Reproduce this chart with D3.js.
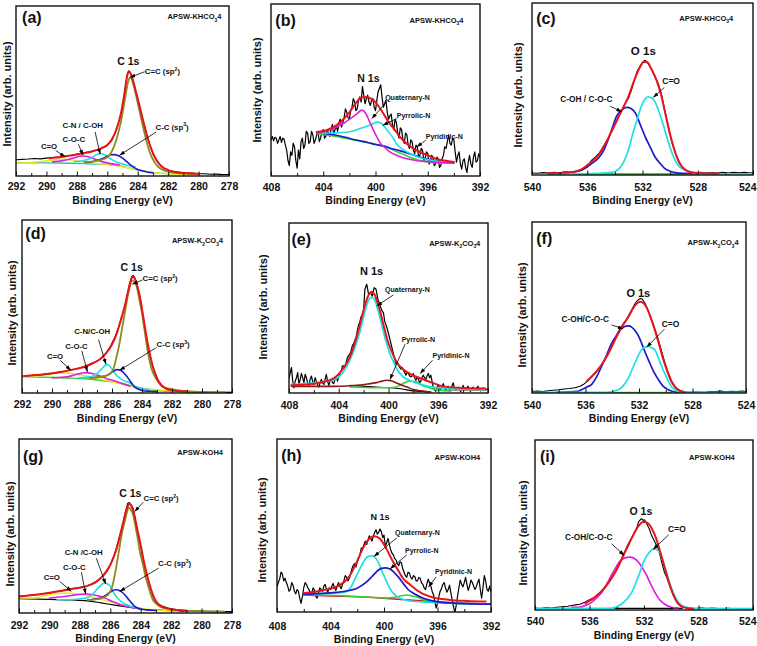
<!DOCTYPE html>
<html><head><meta charset="utf-8">
<script src="https://cdn.jsdelivr.net/npm/d3@7"></script>
<style>
body{margin:0;background:#fff}
svg{display:block}
text{font-family:"Liberation Sans",Arial,sans-serif;font-weight:bold;fill:#111}
</style>
</head><body><svg id="c" width="757" height="646"></svg>
<script>
// ---------------- DATA: [binding energy (eV), intensity (% of panel height)] ----------------
// (a) APSW-KHCO3 C 1s
const a_raw=[[292,9.6],[291.6,9.8],[291.2,10],[290.8,10.3],[290.4,10.1],[290,10.5],[289.6,10.9],[289.2,11.2],[288.8,11.7],[288.4,12.1],[288,12.9],[287.6,13.5],[287.2,14.3],[286.8,15],[286.4,16.2],[286,18],[285.7,21],[285.4,27],[285.2,33],[285,40],[284.9,46],[284.8,53],[284.7,59],[284.6,61.9],[284.5,61],[284.4,58.5],[284.2,52],[284,45],[283.8,38],[283.6,31],[283.4,24],[283.2,18],[283,13],[282.8,9.5],[282.6,7],[282.4,5.3],[282.2,4.2],[282,3.4],[281.6,2.5],[281.2,2.1],[280.8,1.7],[280.4,1.7],[280,1.3],[279.6,1.3],[279.2,1],[278.8,1.1],[278.4,0.8],[278,0.9]];
const a_fit=[[289.8,10.5],[289,11.2],[288.4,12],[288,12.6],[287.6,13.3],[287.2,14],[286.8,15],[286.4,16.3],[286,18.3],[285.7,21.5],[285.4,27.5],[285.1,37],[284.9,47],[284.75,56],[284.65,60.5],[284.55,61.5],[284.45,60],[284.3,56],[284.1,49],[283.9,42],[283.6,31],[283.3,21],[283,13.5],[282.7,8.5],[282.4,5.5],[282,3.5],[281.5,2.3],[281,1.8],[280.5,1.5],[280,1.3]];
const a_sp2=[[287.5,8.2],[287,8.5],[286.5,9.2],[286,11],[285.7,14.5],[285.4,21.5],[285.1,32],[284.9,42],[284.75,50],[284.6,56.5],[284.5,58],[284.4,57],[284.25,52.5],[284.05,45],[283.85,37],[283.6,27],[283.35,18],[283.1,11.5],[282.85,7.5],[282.6,5],[282.3,3.4],[282,2.5],[281.5,1.8],[281,1.5],[280.4,1.2]];
const a_sp3=[[287.4,8.1],[287,8.4],[286.6,9.2],[286.3,10.3],[286,11.6],[285.75,12.5],[285.55,12.6],[285.3,12],[285,10.5],[284.7,8.3],[284.4,6],[284.1,4.3],[283.8,3.2],[283.4,2.4],[283,1.9]];
const a_cn=[[288.2,8.4],[287.6,9],[287.2,10],[286.9,11.5],[286.65,12.8],[286.45,13.2],[286.25,12.8],[286,11.5],[285.7,9.6],[285.4,8.2],[285,7],[284.6,6.2],[284.2,5.5]];
const a_coc=[[289.6,8.3],[289,8.9],[288.5,9.8],[288.1,10.9],[287.8,11.6],[287.55,11.8],[287.3,11.5],[287,10.6],[286.7,9.5],[286.3,8.3],[285.8,7.3],[285.2,6.5]];
const a_co=[[292,7.6],[291,8],[290.3,8.6],[289.7,9.3],[289.2,9.8],[288.8,9.9],[288.4,9.6],[288,9],[287.5,8.2],[287,7.6],[286.5,7.2],[285.5,6.2],[284.5,4.6],[283.5,2.8],[282.5,1.6],[281,1],[280,0.8]];
const a_bg=[[292,7.8],[290,7.7],[288.5,7.5],[287.5,7.3],[286.5,7],[285.5,6.3],[285,5.6],[284.5,4.6],[284,3.6],[283.5,2.7],[283,2],[282,1.4],[281,1.1],[280,1]];

// (b) APSW-KHCO3 N 1s
const b_raw=[[408,21],[407.9,23],[407.8,20.5],[407.7,22.5],[407.6,22],[407.5,19],[407.4,21],[407.3,23],[407.2,19.5],[407.1,22],[407,21.5],[406.9,18],[406.8,15],[406.7,9],[406.6,6],[406.5,14],[406.4,12],[406.3,19],[406.2,17],[406.1,9],[406,4.5],[405.9,15],[405.8,10],[405.7,20],[405.6,22],[405.5,16],[405.4,18],[405.3,26],[405.2,25],[405.1,19],[405,20],[404.9,26],[404.8,24],[404.7,19],[404.6,21],[404.5,24],[404.4,25.5],[404.3,20],[404.2,22],[404.1,26],[404,27],[403.9,22],[403.8,23],[403.7,27],[403.6,25],[403.5,23],[403.4,27.5],[403.3,30],[403.2,24],[403.1,27],[403,29],[402.9,26],[402.8,31],[402.7,33],[402.6,28.5],[402.5,31],[402.4,34],[402.3,39],[402.2,37],[402.1,34],[402,33],[401.9,38],[401.8,40],[401.7,45],[401.6,43],[401.5,38],[401.4,39],[401.3,44],[401.2,46],[401.1,43],[401,52],[400.9,47],[400.8,42],[400.7,45],[400.6,47],[400.5,43],[400.4,41],[400.3,44],[400.2,45],[400.1,40],[400,38],[399.9,44],[399.8,49],[399.7,51],[399.6,53],[399.5,46],[399.4,40],[399.3,42],[399.2,44],[399.1,37],[399,33],[398.9,35],[398.8,36],[398.7,30],[398.6,27],[398.5,33],[398.4,31],[398.3,25],[398.2,22],[398.1,28],[398,27],[397.9,21],[397.8,19],[397.7,25],[397.6,24],[397.5,18],[397.4,16],[397.3,21],[397.2,20],[397.1,15],[397,13],[396.9,18],[396.8,17],[396.7,11],[396.6,12],[396.5,16],[396.4,15],[396.3,9],[396.2,10],[396.1,14],[396,13],[395.9,7],[395.8,8],[395.7,12],[395.6,11],[395.5,6],[395.4,7],[395.3,11],[395.2,10],[395.1,5],[395,6],[394.9,10],[394.8,12],[394.7,17],[394.6,16],[394.5,20],[394.4,24],[394.3,19],[394.2,18],[394.1,22],[394,21],[393.9,14],[393.8,8],[393.7,12],[393.6,14],[393.5,7],[393.4,4],[393.3,9],[393.2,10],[393.1,5],[393,2],[392.9,8],[392.8,12],[392.7,7],[392.6,5],[392.5,11],[392.4,14],[392.3,8],[392.2,9],[392.1,13],[392,11]];
const b_fit=[[404.5,25.6],[403.8,26.5],[403.2,28.5],[402.6,32],[402,37],[401.5,42.5],[401.1,45.5],[400.8,46],[400.5,45.5],[400.15,44],[399.8,41],[399.4,36.3],[399,31.5],[398.6,27.6],[398.1,22.5],[397.6,18.8],[397,15.5],[396.3,13],[395.7,11],[395.1,9.5],[394.5,8.7],[394,8.2]];
const b_quat=[[404.5,24.7],[403.8,26],[403,28.5],[402.4,30.8],[401.9,33.5],[401.4,36.3],[401.05,38.3],[400.75,36.5],[400.45,31.5],[400.15,26.5],[399.85,22],[399.6,18.8],[399.2,16],[398.9,14],[398.3,11.8],[397.6,10],[396.9,9],[396.3,8.5],[395.2,8],[394,7.6]];
const b_pyrr=[[404.5,24.7],[403.5,25],[402.5,25.3],[401.8,26],[401.2,27.6],[400.7,28.8],[400.3,30],[399.9,31.3],[399.55,30.5],[399.2,27.5],[398.9,24.7],[398.6,21.5],[398.4,18.8],[398,16],[397.6,14],[397,11.8],[396.3,10],[395.5,8.8],[394.7,8.2],[394,8]];
const b_pyri=[[404.5,25],[404,24.8],[403.5,24.3],[403,23.7],[402.4,22.7],[401.9,21.7],[401.2,20.5],[400.6,19.5],[400,18.3],[399.4,17.5],[398.8,16],[398.1,14.6],[397.4,13],[396.8,11.5],[396.2,10.2],[395.6,9.1],[394.8,8.3],[394,7.8]];
const b_bg=[[404.5,24.7],[404,24.2],[403,23],[402,21.5],[401,20],[400,18.5],[399.2,16.8],[398.6,15],[398,13],[397.4,11],[396.8,9.5],[396.2,8.5],[395.4,7.8],[394.6,7.5],[394,7.4]];

// (c) APSW-KHCO3 O 1s
const c_raw=[[540,1.2],[539.6,1],[539.2,1.4],[538.8,1.1],[538.4,1.5],[538,1.3],[537.6,1.8],[537.2,1.6],[536.8,2.2],[536.4,2.6],[536,4.5],[535.7,8.5],[535.4,10.5],[535.1,13],[534.8,17],[534.5,21],[534.2,26],[533.9,31],[533.6,36],[533.3,41],[533,45],[532.8,49.3],[532.6,55],[532.4,60],[532.2,63],[532,65.5],[531.85,66.7],[531.7,66],[531.5,63.5],[531.3,61],[531.1,57],[530.85,53],[530.6,46],[530.4,38],[530.15,29],[529.9,20],[529.65,13.5],[529.4,8.5],[529.15,5],[528.9,3],[528.6,1.8],[528.2,1.3],[527.8,1.5],[527.4,1.1],[527,1.4],[526.6,1.2],[526.2,1.6],[525.8,1.1],[525.4,1.5],[525,1.3],[524.6,1.5],[524.2,1.2],[524,1.4]];
const c_fit=[[538.8,1],[537.5,1.4],[536.5,3],[535.8,7],[535.2,11.5],[534.6,19.5],[534.2,26],[533.6,36],[533,46],[532.6,55],[532.2,62.5],[531.9,65.7],[531.65,65.5],[531.35,61.5],[531,55.5],[530.65,46.5],[530.3,34],[530,23.5],[529.65,13.5],[529.3,6.5],[528.9,3],[528.4,1.5],[527.5,1],[526.5,0.9]];
const c_coh=[[538.8,0.9],[537.5,1.2],[536.6,2.4],[536.2,3.9],[535.7,6.5],[535.2,9.7],[534.8,14.5],[534.5,20.3],[534.2,27],[533.9,33.8],[533.5,37.8],[533.15,39.3],[532.8,38.5],[532.5,35.8],[532.2,30],[531.8,22.2],[531.4,15.5],[531.1,10.6],[530.7,6.5],[530.4,3.9],[530,2.2],[529.65,1.4],[529,0.9],[528,0.7]];
const c_co=[[538.8,0.6],[536,0.8],[534.6,1.2],[534,2],[533.6,4.5],[533.3,8.7],[533,15],[532.7,24.2],[532.4,32],[532.1,39.7],[531.85,43.8],[531.6,45.5],[531.35,44.8],[531.1,42.6],[530.85,37.8],[530.6,31.9],[530.35,25],[530.1,18.4],[529.85,12.5],[529.65,8.7],[529.3,4.5],[528.9,2.9],[528.5,1.5],[527.8,0.9],[526,0.7],[524,0.7]];
const c_bg=[[536.5,0.6],[532,0.6],[529,0.6]];

// (d) APSW-K2CO3 C 1s
const d_raw=[[292,9.8],[291.6,10],[291.2,10.4],[290.8,10.5],[290.4,10.9],[290,11.3],[289.6,11.9],[289.2,12.4],[288.8,13.4],[288.4,13.9],[288,14.9],[287.6,15.7],[287.2,17.4],[286.8,19.5],[286.4,23],[286.1,27],[285.8,32.4],[285.6,37],[285.35,44],[285.15,50],[285,55.6],[284.85,62],[284.7,67],[284.6,68],[284.5,67],[284.4,64],[284.25,60],[284.1,53.7],[283.95,45],[283.8,36.3],[283.65,29],[283.5,22.8],[283.3,16],[283.1,11.2],[282.95,8],[282.8,5.4],[282.6,3.8],[282.4,2.5],[282,1.6],[281.6,1.3],[281.2,0.9],[280.8,0.7],[280.4,0.5],[280,0.4],[279.5,0.3],[279,0.3],[278.5,0.2],[278,0.2]];
const d_fit=[[291.8,9.8],[290.5,10.8],[289.5,12],[288.6,13.5],[287.9,15],[287.3,17.2],[286.8,19.5],[286.35,23.5],[286,28],[285.7,34],[285.4,42.5],[285.1,52],[284.9,60],[284.75,65],[284.6,67.2],[284.5,66.5],[284.35,63],[284.15,56],[283.95,46],[283.75,35],[283.5,23.5],[283.25,14.5],[283,8.5],[282.7,4.5],[282.4,2.6],[282,1.6],[281.5,1.1],[281,0.9]];
const d_sp2=[[287.5,8.6],[286.8,9.3],[286.4,10],[286.1,11.2],[285.9,14],[285.7,20.8],[285.5,28.5],[285.35,36.3],[285.15,46],[285,53.7],[284.85,60],[284.65,65],[284.5,64],[284.35,61.4],[284.2,55],[284,46],[283.85,37.5],[283.7,28.6],[283.55,21],[283.4,15],[283.2,10.5],[283,7.3],[282.8,5],[282.6,3.5],[282.2,2.5],[281.7,1.6],[281,1],[280.1,0.6],[278.5,0.4]];
const d_sp3=[[287.3,8.8],[286.8,9.3],[286.35,10.2],[286.1,11.5],[285.9,12.7],[285.65,13.5],[285.35,12.7],[285.1,10.5],[284.9,8.3],[284.7,5.8],[284.5,3.5],[284.25,2.3],[284,1.5],[283.5,1],[283,0.8]];
const d_cn=[[288.2,8.8],[287.5,9.3],[287.2,10.2],[287,11.2],[286.7,13.8],[286.5,15.6],[286.35,16.4],[286.2,16],[286,13.8],[285.85,11.8],[285.7,10.2],[285.4,8.2],[285.25,7.3],[284.9,6.2],[284.6,4.5],[284.2,3],[283.5,1.8]];
const d_coc=[[290,8.8],[289.5,9],[289,9.3],[288.6,10.2],[288.35,10.8],[288,11.5],[287.7,11.8],[287.4,11.4],[287,10.4],[286.6,9.2],[286.35,8.3],[285.8,7],[285.3,5.4],[284.8,4]];
const d_co=[[292,9],[291.2,9.6],[290.6,10.2],[290,11],[289.45,11.6],[289,11.5],[288.6,11.2],[288.2,10.5],[287.7,9.8],[287.2,9],[286.4,7.3],[285.5,5.5],[284.6,3.5],[283.5,2.1],[282.5,1.6],[281.5,1.1],[280.5,0.8]];
const d_bg=[[292,9.3],[290.5,9.1],[289,8.7],[287.8,8.2],[286.8,7.3],[286,6.5],[285.3,5.5],[284.6,3.9],[283.9,2.5],[283.2,1.5],[282.4,1],[281.5,0.7],[280.5,0.6],[279.2,0.6],[278,0.6]];

// (e) APSW-K2CO3 N 1s
const e_raw=[[408,8.5],[407.9,12],[407.8,15],[407.7,7],[407.6,3],[407.5,7],[407.4,9],[407.3,12],[407.2,5],[407.1,8],[407,11.5],[406.9,9],[406.8,6],[406.7,11],[406.6,9],[406.5,6],[406.4,4],[406.3,8],[406.2,10],[406.1,7],[406,5],[405.9,9],[405.8,7],[405.7,5],[405.6,3.5],[405.5,6],[405.4,8],[405.3,6],[405.2,5],[405.1,8],[405,11],[404.9,7],[404.8,4.5],[404.7,7],[404.6,8],[404.5,6],[404.4,5.5],[404.3,8],[404.2,9],[404.1,7],[404,10],[403.9,12],[403.8,13],[403.7,16],[403.6,16],[403.5,15],[403.4,18],[403.3,21],[403.2,22],[403.1,23],[403,25],[402.9,28],[402.8,29],[402.7,31],[402.6,33],[402.5,37],[402.4,40],[402.3,42],[402.2,45],[402.1,46],[402,49],[401.9,61],[401.75,64],[401.6,58],[401.45,59],[401.3,57],[401.15,62],[401,61],[400.85,55],[400.7,52],[400.55,48.8],[400.4,47],[400.3,42],[400.15,39],[400,35],[399.9,32],[399.8,29],[399.7,26],[399.6,23],[399.5,20],[399.4,17],[399.3,18],[399.2,16.5],[399.1,15],[399,14],[398.9,15],[398.8,13.4],[398.7,12],[398.6,10.5],[398.5,12],[398.4,11.4],[398.3,10],[398.2,9.5],[398.1,10],[398,11.4],[397.9,9],[397.8,7.5],[397.7,9],[397.6,8.5],[397.5,6],[397.4,7],[397.3,9],[397.2,10.5],[397.1,9],[397,8],[396.9,10],[396.8,11.5],[396.7,9],[396.6,10.5],[396.5,7],[396.4,3.5],[396.3,2],[396.2,1],[396.1,3],[396,5],[395.9,3],[395.8,2],[395.7,4],[395.6,5.5],[395.5,3],[395.4,1.5],[395.3,3],[395.2,4],[395.1,2],[395,2.5],[394.9,4],[394.8,6],[394.7,3],[394.6,1.5],[394.5,2.5],[394.4,3.5],[394.3,2],[394.2,0.8],[394.1,2.5],[394,4.5],[393.9,2.5],[393.8,1.5],[393.7,3],[393.6,4],[393.5,2],[393.4,1],[393.3,2.5],[393.2,3.5],[393.1,2],[393,1.5],[392.9,3],[392.8,4],[392.7,2],[392.6,1.2],[392.5,2.5],[392.4,3],[392.3,2],[392.2,1.5],[392.1,2],[392,2.5]];
const e_fit=[[407.8,4.5],[406,5.5],[404.45,8.5],[403.65,14.4],[403.1,21.3],[402.6,32],[402.3,40],[402,48.8],[401.8,54],[401.6,57.7],[401.35,59.6],[401.1,57.7],[400.9,53.5],[400.7,48.8],[400.5,43],[400.3,37],[400.1,31.5],[399.9,27.2],[399.6,22],[399.35,18.3],[398.8,13.8],[398.2,11],[397.7,9.4],[396.65,6.5],[395.6,3.9],[394,2.9],[392.2,2.6]];
const e_quat=[[407.8,5],[406,6],[404.45,7.5],[403.65,12.4],[403.1,19.3],[402.6,29],[402.3,36],[402,44.9],[401.8,50.5],[401.6,54.7],[401.35,56.3],[401.1,54.7],[400.9,50],[400.7,44.9],[400.5,39],[400.3,33],[400.1,28],[399.9,23.2],[399.6,18.5],[399.35,14.4],[398.8,9.4],[398,6.5],[396.9,4.1],[395.6,2.9],[392.2,2.2]];
const e_pyrr=[[407.8,3.9],[404.45,3.9],[403,4.3],[402.3,4.7],[401.5,5.5],[400.95,6.1],[400.5,7],[400.15,7.5],[399.8,7.2],[399.35,5.9],[398.9,4.5],[398.5,3.5],[398,2],[397.7,1.6],[396.6,0.6]];
const e_pyri=[[403.1,3.5],[401,3.1],[399.9,3.1],[399.4,3.5],[399.1,4.5],[398.7,6],[398.3,7.1],[397.9,6.8],[397.7,6.5],[397.3,4.5],[396.9,3.5],[396,1.6],[395,1]];
const e_bg=[[403.1,4.5],[401,3.5],[399,2.5],[398,1.2],[396.65,0.6]];
const e_tail=[[396.1,1.6],[394,1.7],[392.2,1.6]];

// (f) APSW-K2CO3 O 1s
const f_raw=[[540,0.9],[539.6,1.1],[539.2,0.8],[538.8,1.3],[538.4,1.6],[538,1.9],[537.6,2.3],[537.2,2.6],[536.8,3.1],[536.4,4],[536.1,5.3],[535.8,7.2],[535.55,9.7],[535.3,11.7],[535.05,13.6],[534.8,16.5],[534.55,19.4],[534.3,23.3],[534.05,27.2],[533.8,31.5],[533.55,35.9],[533.3,39],[533.05,41.7],[532.8,45],[532.55,48.5],[532.35,51.5],[532.2,53.4],[532.05,54.5],[531.9,55.3],[531.75,54.8],[531.55,52.5],[531.3,48],[531.05,42.7],[530.8,37],[530.55,31],[530.3,24],[530.05,17.5],[529.8,11.5],[529.55,6.8],[529.3,3.6],[529.05,1.9],[528.7,0.8],[528.3,0.4],[527.9,0.5],[527.5,0.6],[527.1,0.4],[526.7,0.9],[526.3,0.8],[525.9,1.1],[525.5,0.7],[525.1,1],[524.7,0.8],[524.3,1.1],[524,0.9]];
const f_fit=[[535.9,7],[535.3,11.5],[534.8,16.5],[534.3,23],[533.8,31],[533.3,38.5],[532.8,44.5],[532.4,50],[532.1,52.8],[531.9,53.4],[531.65,52.5],[531.4,49.5],[531.1,43.5],[530.8,36.5],[530.5,28.5],[530.2,20],[529.9,13],[529.6,7],[529.3,3.5],[529,1.5],[528.6,0.5]];
const f_coh=[[538.2,0.4],[536.6,1],[536.3,1.9],[535.9,3.5],[535.55,4.9],[535.2,9],[534.8,15.5],[534.4,22.5],[534.05,29],[533.7,33.5],[533.4,37],[533.1,38.8],[532.8,39.2],[532.55,38.5],[532.3,36.5],[532.05,33.5],[531.8,29],[531.55,24],[531.3,19.4],[530.9,12.5],[530.55,7.8],[530.2,4],[529.8,1.9],[529.3,0.6],[528.5,0.3]];
const f_co=[[540,0.4],[536,0.4],[534.5,0.4],[533.55,1.9],[533.2,4],[532.8,8.7],[532.5,14],[532.2,19.4],[531.95,23.5],[531.7,26.2],[531.3,27.2],[530.95,26],[530.8,25.2],[530.55,20.5],[530.3,15.5],[530.05,11],[529.8,6.8],[529.55,3.5],[529.3,1.9],[528.8,0.5],[527,0.4],[524,0.4]];
const f_bg=[[533.8,0.2],[531.5,0.2],[529.6,0.2]];

// (g) APSW-KOH4 C 1s
const g_raw=[[292,9.6],[291.6,9.9],[291.2,10.3],[290.8,10.5],[290.4,11.1],[290,11.4],[289.6,12.2],[289.2,12.7],[288.8,13.6],[288.4,14],[288,14.8],[287.6,15.4],[287.2,16.8],[286.9,18.2],[286.6,20.5],[286.3,23.5],[286,27.7],[285.8,32],[285.6,37.3],[285.45,42],[285.3,46.8],[285.15,52],[285.05,56.4],[284.95,60],[284.85,63.1],[284.75,63.5],[284.65,62.5],[284.5,60.2],[284.4,56],[284.3,50.7],[284.1,43],[283.95,35.4],[283.8,29],[283.6,22],[283.45,17],[283.3,12.4],[283.15,9],[283,6.7],[282.8,5],[282.55,3.8],[282.2,2.9],[281.9,2.3],[281.5,1.8],[281,1.4],[280.5,1.2],[280.1,1],[279.5,0.8],[279,0.7],[278.5,0.6],[278,0.5]];
const g_fit=[[291.9,9.6],[290.5,10.9],[289.5,12.3],[288.5,13.9],[287.6,15.3],[287,17.5],[286.6,20.3],[286.2,24.5],[285.9,29.5],[285.6,36.5],[285.35,45],[285.15,52],[285,57.5],[284.85,61.5],[284.75,62.7],[284.65,62],[284.5,59],[284.35,53.5],[284.2,47],[284,39],[283.8,30],[283.55,20.5],[283.3,13],[283.05,7.5],[282.8,4.8],[282.5,3.2],[282,2.2],[281.5,1.6],[281,1.3]];
const g_sp2=[[287.5,7.5],[286.7,8.3],[286.3,9.5],[286,12.4],[285.85,16],[285.7,22],[285.55,29.5],[285.4,37.3],[285.25,45],[285.05,52.6],[284.9,58],[284.8,60.6],[284.65,59.5],[284.5,56.4],[284.35,50],[284.2,43],[284.05,35],[283.85,27.7],[283.7,21.5],[283.5,15.3],[283.35,11],[283.2,7.6],[283,5.5],[282.75,3.8],[282.4,2.8],[281.9,1.9],[281,1.3],[280,1],[278.5,0.8]];
const g_sp3=[[287.2,7.8],[286.7,8.4],[286.25,10.5],[286,12],[285.7,13.4],[285.5,13.2],[285.3,12.4],[285.05,10.5],[284.85,8.4],[284.6,5.8],[284.4,3.8],[284.1,2.5],[283.6,1.8],[283,1.4]];
const g_cn=[[289.5,7.6],[288.5,7.8],[287.6,8.6],[287.2,10.5],[287,12.4],[286.7,15.3],[286.5,16.8],[286.35,17.2],[286.2,16.8],[286,15.3],[285.85,13],[285.7,10.5],[285.5,8.3],[285.3,6.7],[285,5],[284.6,3.8],[284,2.5]];
const g_coc=[[290,8.6],[289.4,9.2],[288.9,9.6],[288.3,10.4],[287.9,10.8],[287.6,10.9],[287.2,10.6],[286.7,9.6],[286.3,8.4],[285.9,6.7],[285.3,4.8],[284.8,3.6],[284,2.5]];
const g_co=[[292,8.8],[291.1,8.6],[290.6,9.3],[290,10.5],[289.4,11.2],[288.9,11.5],[288.4,11.2],[288,10.9],[287.5,10],[287,8.8],[286.3,7.1],[285.5,5.3],[284.8,3.8],[283.8,2.3],[283,1.6],[281.5,1]];
const g_bg=[[292,8.2],[290,7.8],[288.5,7.5],[287.5,7],[286.6,5.8],[285.7,4.5],[284.7,3.2],[283.6,1.9],[282.5,1.5],[281,1],[280,0.9],[278,0.8]];

// (h) APSW-KOH4 N 1s
const h_raw=[[408,14.5],[407.9,17],[407.8,19],[407.7,23],[407.6,22],[407.5,18],[407.4,19.5],[407.3,17],[407.2,15],[407.1,12],[407,13],[406.9,17],[406.8,15.5],[406.7,12],[406.6,10.5],[406.5,13],[406.4,12],[406.3,8],[406.2,5],[406.1,9],[406,14],[405.9,17],[405.8,16],[405.7,14],[405.6,13],[405.5,10],[405.4,11],[405.3,14],[405.2,12.5],[405.1,9],[405,8],[404.9,11],[404.8,14],[404.7,13],[404.6,12],[404.5,15],[404.4,16],[404.3,13],[404.2,11.5],[404.1,14],[404,13],[403.9,15],[403.8,16.5],[403.7,14],[403.6,12.5],[403.5,15],[403.4,17],[403.3,15],[403.2,13.5],[403.1,16],[403,18],[402.9,21],[402.8,20],[402.7,18],[402.6,19.5],[402.5,22],[402.4,24.9],[402.3,27],[402.2,28],[402.1,26],[402,29],[401.9,31],[401.8,33],[401.7,37],[401.6,36.5],[401.5,39],[401.4,40.9],[401.3,39],[401.2,41.5],[401.1,44],[401,42.5],[400.9,41],[400.8,44],[400.7,46],[400.6,47.5],[400.5,45],[400.4,46],[400.3,48],[400.2,46.5],[400.1,43],[400,44.5],[399.9,38],[399.8,40],[399.7,42.5],[399.6,39],[399.5,36],[399.4,34],[399.3,33],[399.2,31],[399.1,30],[399,28],[398.9,26.8],[398.8,29],[398.7,28.5],[398.6,25],[398.5,23],[398.4,21],[398.3,20],[398.2,23],[398.1,22.5],[398,20],[397.9,19],[397.8,21],[397.7,20.5],[397.6,18],[397.5,18],[397.4,20],[397.3,19.5],[397.2,17],[397.1,16],[397,14],[396.9,13],[396.8,16],[396.7,19],[396.6,17],[396.5,15],[396.4,12],[396.3,10],[396.2,6],[396.1,2.3],[396,5],[395.9,9],[395.8,12],[395.7,13.5],[395.6,16],[395.5,17],[395.4,14],[395.3,11.5],[395.2,13],[395.1,15.5],[395,11],[394.9,7],[394.8,3],[394.7,-0.5],[394.6,4],[394.5,9],[394.4,14],[394.3,18.5],[394.2,16],[394.1,14.5],[394,17],[393.9,20],[393.8,16],[393.7,12.5],[393.6,15],[393.5,18.5],[393.4,17],[393.3,15],[393.2,13],[393.1,14.5],[393,17],[392.9,19],[392.8,13],[392.7,8],[392.6,14],[392.5,21],[392.4,18],[392.3,13],[392.2,12],[392.1,15],[392,11.5]];
const h_fit=[[406.05,10.8],[404.55,12.6],[403.3,15.5],[402.55,21.1],[402.05,28.7],[401.55,37.2],[401.05,42.8],[400.7,43.8],[400.3,42.3],[399.8,36.2],[399.3,28.7],[398.9,23.5],[398.55,19.2],[398,15.5],[397.55,12.6],[396.55,8.9],[395.05,7],[393.8,6.4],[392.4,6]];
const h_bg=[[406.05,9.8],[404,9.2],[402.55,8.9],[400.05,7.9],[397.55,6.6],[395.05,5.5],[392,4.5]];
const h_quat=[[406.05,10.2],[404.5,10.6],[403,11.3],[402.55,13.5],[402.05,21.1],[401.7,26.5],[401.4,30.6],[401.1,32.3],[400.9,32.5],[400.65,31.5],[400.4,28.3],[400.15,23.5],[399.9,19.2],[399.65,15],[399.4,11.7],[398.8,8],[397.8,6.2],[395.05,5.1],[392,4.5]];
const h_pyrr=[[406.05,10.2],[403.6,11.3],[402.5,12.6],[402.05,13.6],[401.3,17.4],[400.9,20.5],[400.55,23.4],[400.2,25.2],[399.9,25.5],[399.6,25],[399.3,23.4],[398.9,20],[398.55,16.4],[398.2,13],[397.8,10.8],[397.05,7.9],[396.1,6],[394.5,5],[392,4.5]];
const h_pyri=[[406.05,10.2],[403.5,9.5],[401,8.5],[399.9,8.1],[399.05,8.7],[398.6,9.5],[398.3,9.8],[397.9,9.3],[397.55,8.7],[397,7],[396.55,6.3],[395,5.1],[393,4.6]];

// (i) APSW-KOH4 O 1s
const i_raw=[[540,1.2],[539.6,0.9],[539.2,1.4],[538.8,1.1],[538.4,1.6],[538,1.9],[537.6,2.2],[537.3,2.6],[537,3],[536.7,3.4],[536.35,4.5],[536,6],[535.6,7.5],[535.35,9.5],[535.1,11.4],[534.85,13.8],[534.6,16.3],[534.35,19],[534.1,22.2],[533.85,26],[533.65,30.1],[533.4,34.5],[533.15,39],[532.9,42.5],[532.65,45.9],[532.5,49],[532.4,51.8],[532.2,53.7],[532.05,52.8],[531.95,53],[531.8,50.8],[531.6,47.5],[531.45,43.9],[531.2,40],[530.95,36],[530.8,31.5],[530.7,28.1],[530.5,22.2],[530.35,19.5],[530.2,16.3],[530,12],[529.85,8.5],[529.65,5.5],[529.5,3.5],[529.2,2.2],[529,1.6],[528.6,1.2],[528.2,0.9],[527.8,1.3],[527.4,0.8],[527,1.2],[526.6,0.9],[526.2,0.6],[525.8,1],[525.4,0.7],[525,0.9],[524.6,0.6],[524.2,0.8],[524,0.6]];
const i_fit=[[536.3,4],[535.7,7],[535.1,11],[534.6,16],[534.1,22.5],[533.6,30.5],[533.1,39],[532.7,45.5],[532.35,50],[532.1,51.7],[531.95,51.8],[531.7,51],[531.4,47.5],[531.1,42],[530.8,34],[530.5,25.5],[530.2,17],[529.9,10],[529.6,5],[529.3,2.3],[528.9,1.2],[528.4,0.8]];
const i_coh=[[537.3,1.6],[536.8,1.6],[536.2,3],[535.85,4.5],[535.5,7],[535.1,10.4],[534.75,15],[534.4,20.3],[534.1,24.5],[533.8,28.3],[533.4,30.7],[533.05,31.1],[532.7,30.3],[532.4,28.1],[532.1,24.5],[531.8,20.3],[531.5,15],[531.2,10.4],[530.85,6],[530.5,3.5],[530,1.6],[529.5,1.2]];
const i_co=[[540,1],[536,1],[534.4,1],[533.65,3.5],[533.3,6],[532.9,10.4],[532.6,16],[532.3,22.2],[532.05,28],[531.8,31.7],[531.55,34.5],[531.3,36],[531.05,35.5],[530.85,33.9],[530.6,28.5],[530.35,22.2],[530.1,15.5],[529.85,10.4],[529.6,6],[529.35,3.5],[528.9,1.6],[528.3,1],[524,0.8]];
const i_bg=[[534.4,1],[531.8,1],[529.2,1]];

// tick labels
const C_TICKS=[292,290,288,286,284,282,280,278], C_MINOR=[291,289,287,285,283,281,279];
const N_TICKS=[408,404,400,396,392], N_MINOR=[406,402,398,394];
const O_TICKS=[540,536,532,528,524], O_MINOR=[538,534,530,526];

// ---------------- LAYOUT / STYLE ----------------
const COL={k:'#000',r:'#e8141b',ol:'#8c8c1c',bl:'#1a1acc',cy:'#1ce0e6',mg:'#e01ee0',ye:'#e8e81e',gr:'#33d633',br:'#8b1a12',te:'#22c8b0',gy:'#909090'};
const layout={
 a:{l:16,t:6,r:229,b:176,tdy:14.5,ty:204,ix:7,iy:94},
 b:{l:271,t:4,r:480,b:176,tdy:15,ty:204,ix:257,iy:90},
 c:{l:532,t:3,r:753,b:175,tdy:16.5,ty:204,ix:518,iy:95},
 d:{l:22,t:220,r:232,b:393,tdy:15.5,ty:422,ix:12,iy:313},
 e:{l:289,t:223,r:488,b:393,tdy:16.5,ty:422,ix:263,iy:307},
 f:{l:532,t:222,r:746,b:393,tdy:16.5,ty:422,ix:522,iy:315},
 g:{l:19,t:439,r:232,b:613,tdy:16,ty:642,ix:10,iy:534},
 h:{l:277,t:439,r:491,b:612,tdy:18,ty:643,ix:262,iy:530},
 i:{l:535,t:440,r:753,b:610,tdy:15,ty:639,ix:523,iy:533}
};
const panels=[
 {id:'a',dom:[292,278],ticks:C_TICKS,minor:C_MINOR,series:[[a_bg,'te',1.4],[a_co,'ye',1.5],[a_raw,'k',1.1,1],[a_coc,'mg',1.6],[a_cn,'cy',1.6],[a_sp3,'bl',1.6],[a_sp2,'ol',1.8],[a_fit,'r',2]]},
 {id:'b',dom:[408,392],ticks:N_TICKS,minor:N_MINOR,series:[[b_raw,'k',1.2,1],[b_bg,'gr',1.6],[b_pyri,'bl',1.6],[b_pyrr,'cy',1.6],[b_quat,'mg',1.6],[b_fit,'r',2]]},
 {id:'c',dom:[540,524],ticks:O_TICKS,minor:O_MINOR,series:[[c_raw,'k',1.1,1],[c_bg,'gr',2],[c_coh,'bl',1.7],[c_co,'cy',1.7],[c_fit,'r',2]]},
 {id:'d',dom:[292,278],ticks:C_TICKS,minor:C_MINOR,series:[[d_bg,'gr',1.4],[d_co,'ye',1.5],[d_raw,'k',1.1,1],[d_coc,'mg',1.6],[d_cn,'cy',1.6],[d_sp3,'bl',1.6],[d_sp2,'ol',1.8],[d_fit,'r',2]]},
 {id:'e',dom:[408,392],ticks:N_TICKS,minor:N_MINOR,series:[[e_raw,'k',1.2,1],[e_tail,'gy',1.5],[e_bg,'k',1.2],[e_pyri,'gr',1.6],[e_pyrr,'br',1.6],[e_quat,'cy',1.8],[e_fit,'r',2]]},
 {id:'f',dom:[540,524],ticks:O_TICKS,minor:O_MINOR,series:[[f_raw,'k',1.1,1],[f_bg,'gr',2],[f_coh,'bl',1.7],[f_co,'cy',1.7],[f_fit,'r',2]]},
 {id:'g',dom:[292,278],ticks:C_TICKS,minor:C_MINOR,series:[[g_bg,'k',1.2],[g_co,'ye',1.5],[g_raw,'k',1.1,1],[g_coc,'mg',1.6],[g_cn,'cy',1.6],[g_sp3,'bl',1.6],[g_sp2,'ol',1.8],[g_fit,'r',2]]},
 {id:'h',dom:[408,392],ticks:N_TICKS,minor:N_MINOR,series:[[h_raw,'k',1.2,1],[h_bg,'r',1.5],[h_pyri,'gr',1.6],[h_quat,'cy',1.7],[h_pyrr,'bl',1.7],[h_fit,'r',2]]},
 {id:'i',dom:[540,524],ticks:O_TICKS,minor:O_MINOR,series:[[i_raw,'k',1.1,1],[i_bg,'k',1.2],[i_coh,'mg',1.7],[i_co,'cy',1.7],[i_fit,'r',2]]}
];
// annotations: [text, eV, %, fontsize, anchor, arrow(eV1,%1,eV2,%2)]
const notes={
 a:[['(a)',291.6,90.2,16,'start'],['APSW-KHCO_34',278.5,92.1,7.5,'end'],['C 1s',284.62,65.2,10.5,'middle'],
    ['C=C (sp^2)',283.53,59.9,7.8,'start',[283.55,61.3,284.51,58]],['C-C (sp^3)',282.83,27.3,7.8,'start',[282.78,25.9,285.2,12.2]],
    ['C-N / C-OH',288.94,28.1,7.8,'start',[286.8,25.9,286.47,12.8]],['C-O-C',288.94,20.2,7.8,'start',[287.9,18.7,287.6,12.2]],['C=O',290.36,15.9,7.8,'start',[289.4,15.1,288.77,11.2]]],
 b:[['(b)',407.67,87.2,16,'start'],['APSW-KHCO_34',393.27,89.1,7.5,'end'],['N 1s',400.54,54.8,10.5,'middle'],
    ['Quaternary-N',399.26,44.1,7,'start',[399.26,42.1,400.28,33.4]],['Pyrrolic-N',398.37,34,7,'start',[398.37,33.4,399.44,29.5]],['Pyridinic-N',396.15,21.7,7,'start',[396.15,20.8,396.84,16.9]]],
 c:[['(c)',539.7,87.6,16,'start'],['APSW-KHCO_34',525.44,89.6,7.5,'end'],['O 1s',531.94,69.6,11.5,'middle'],
    ['C=O',530.57,52.8,8.5,'start',[530.42,50.9,531.22,45.1]],['C-OH / C-O-C',537.95,42.6,8.3,'start',[534.35,40,533.5,36.8]]],
 d:[['(d)',291.78,88.8,16,'start'],['APSW-K_2CO_34',278.6,86.5,7.5,'end'],['C 1s',284.69,70.7,10.5,'middle'],
    ['C=C (sp^2)',283.96,64.9,7.8,'start',[283.98,65.3,284.65,62.9]],['C-C (sp^3)',283.03,26.6,7.8,'start',[283.03,26.3,285.5,13.1]],
    ['C-N/C-OH',288.52,34,7.8,'start',[286.9,30.9,286.4,16.6]],['C-O-C',289.12,25.7,7.8,'start',[288.01,24.3,287.64,12.2]],['C=O',290.34,19.9,7.8,'start',[289.45,18.9,288.74,13.1]]],
 e:[['(e)',407.8,87.2,16,'start'],['APSW-K_2CO_34',392.62,86.6,7.5,'end'],['N 1s',401.36,69.5,11,'middle'],
    ['Quaternary-N',400.28,59.6,7,'start',[399.6,57.7,400.95,51.2]],['Pyrrolic-N',398.94,30.1,7,'start',[398.67,28.7,399.88,7.9]],['Pyridinic-N',396.46,20.3,7,'start',[396.46,19.3,397.46,11.4]]],
 f:[['(f)',539.68,87.4,16,'start'],['APSW-K_2CO_34',524.55,86.4,7.5,'end'],['O 1s',532.05,55.9,11,'middle'],
    ['C-OH/C-O-C',537.8,41.7,8.3,'start',[534.05,39.8,533.18,37.5]],['C=O',530.3,38.4,8.5,'start',[530.1,37.3,531.43,26.8]]],
 g:[['(g)',291.74,87,16,'start'],['APSW-KOH4',278.59,90.8,7.5,'end'],['C 1s',284.68,66.9,10.5,'middle'],
    ['C=C (sp^2)',283.81,64.4,7.8,'start',[283.83,63.7,284.4,58.3]],['C-C (sp^3)',282.86,26.8,7.8,'start',[282.82,25.8,285.38,12.4]],
    ['C-N /C-OH',289,33.1,7.8,'start',[286.92,31.5,286.3,16.6]],['C-O-C',289.1,24.9,7.8,'start',[287.9,23.5,287.62,10.9]],['C=O',290.38,19.1,7.8,'start',[289.33,18.2,288.56,12.4]]],
 h:[['(h)',407.68,87.2,16,'start'],['APSW-KOH4',392.8,88.1,7.5,'end'],['N 1s',400.3,53.2,9,'middle'],
    ['Quaternary-N',399.18,44.7,7,'start',[399.05,42.8,400.75,32.1]],['Pyrrolic-N',398.43,34.3,7,'start',[398.3,33,399.55,24.9]],['Pyridinic-N',396.18,21.7,7,'start',[396.1,20.2,396.68,14.5]]],
 i:[['(i)',539.63,87.2,16,'start'],['APSW-KOH4',525.34,88.2,7.5,'end'],['O 1s',532.23,56.1,10.5,'middle'],
    ['C-OH/C-O-C',537.8,40.9,8.3,'start',[534.38,39,533.45,32.1]],['C=O',530.23,45.9,8.5,'start',[530.18,44.3,531.33,35.6]]]
};

// ---------------- DRAW ----------------
const W=757;
const svg=d3.select('#c');
svg.append('rect').attr('width',757).attr('height',646).attr('fill','#fff');
const defs=svg.append('defs');
defs.append('marker').attr('id','ah').attr('viewBox','0 0 7 5').attr('refX',7).attr('refY',2.5)
  .attr('markerWidth',5.5).attr('markerHeight',4).attr('orient','auto').attr('markerUnits','userSpaceOnUse')
  .append('path').attr('d','M0,0L7,2.5L0,5Z').attr('fill','#000');

function rich(sel,str,size){
  let shift=0;
  str.split(/([_^][0-9])/).forEach(p=>{
    if(!p) return;
    let target=0,txt=p,fs=size;
    if(p[0]==='_'){target=size*0.3;txt=p[1];fs=size*0.65;}
    else if(p[0]==='^'){target=-size*0.4;txt=p[1];fs=size*0.65;}
    sel.append('tspan').attr('dy',target-shift).attr('font-size',fs).text(txt);
    shift=target;
  });
}

panels.forEach(p=>{
  const L=layout[p.id];
  const x=d3.scaleLinear().domain(p.dom).range([L.l,L.r]);
  const y=d3.scaleLinear().domain([0,100]).range([L.b,L.t]);
  const g=svg.append('g');
  defs.append('clipPath').attr('id','cp'+p.id).append('rect')
    .attr('x',L.l).attr('y',L.t).attr('width',L.r-L.l).attr('height',L.b-L.t);
  const plot=g.append('g').attr('clip-path',`url(#cp${p.id})`);
  p.series.forEach(([data,c,w,raw])=>{
    const line=d3.line().x(d=>x(d[0])).y(d=>y(d[1])).curve(raw?d3.curveLinear:d3.curveMonotoneX);
    plot.append('path').attr('d',line(data)).attr('fill','none').attr('stroke',COL[c])
      .attr('stroke-width',w).attr('stroke-linejoin','round').attr('stroke-linecap','round');
  });
  // axes
  const ax=g.append('g').attr('transform',`translate(0,${L.b})`)
    .call(d3.axisBottom(x).tickValues(p.ticks).tickSizeInner(-4.5).tickSizeOuter(0).tickPadding(L.tdy-7.5).tickFormat(d3.format('d')));
  ax.attr('font-size',10.5); ax.select('.domain').remove();
  ax.selectAll('line').attr('stroke','#111').attr('stroke-width',1);
  ax.selectAll('text').each(function(){
    const t=d3.select(this), wdt=this.getComputedTextLength();
    const tx=x(t.datum());
    if(tx+wdt/2>W-1) t.attr('x',(W-1-wdt/2)-tx);
  });
  const axm=g.append('g').attr('transform',`translate(0,${L.b})`)
    .call(d3.axisBottom(x).tickValues(p.minor).tickSizeInner(-3).tickSizeOuter(0).tickFormat(''));
  axm.select('.domain').remove(); axm.selectAll('line').attr('stroke','#111');
  // frame
  g.append('rect').attr('x',L.l).attr('y',L.t).attr('width',L.r-L.l).attr('height',L.b-L.t)
    .attr('fill','none').attr('stroke','#111').attr('stroke-width',1.4);
  // titles
  g.append('text').attr('x',(L.l+L.r)/2).attr('y',L.ty).attr('text-anchor','middle').attr('font-size',10.5).text('Binding Energy (eV)');
  g.append('text').attr('transform',`translate(${L.ix},${L.iy}) rotate(-90)`).attr('text-anchor','middle')
    .attr('dominant-baseline','central').attr('font-size',11).text('Intensity (arb. units)');
  // annotations
  notes[p.id].forEach(n=>{
    const [t,ex,ey,fs,anc,arr]=n;
    const tx=g.append('text').attr('x',x(ex)).attr('y',y(ey)).attr('text-anchor',anc).attr('font-size',fs);
    rich(tx,t,fs);
    if(arr){
      g.append('line').attr('x1',x(arr[0])).attr('y1',y(arr[1])).attr('x2',x(arr[2])).attr('y2',y(arr[3]))
        .attr('stroke','#000').attr('stroke-width',0.8).attr('marker-end','url(#ah)');
    }
  });
});
</script></body></html>
